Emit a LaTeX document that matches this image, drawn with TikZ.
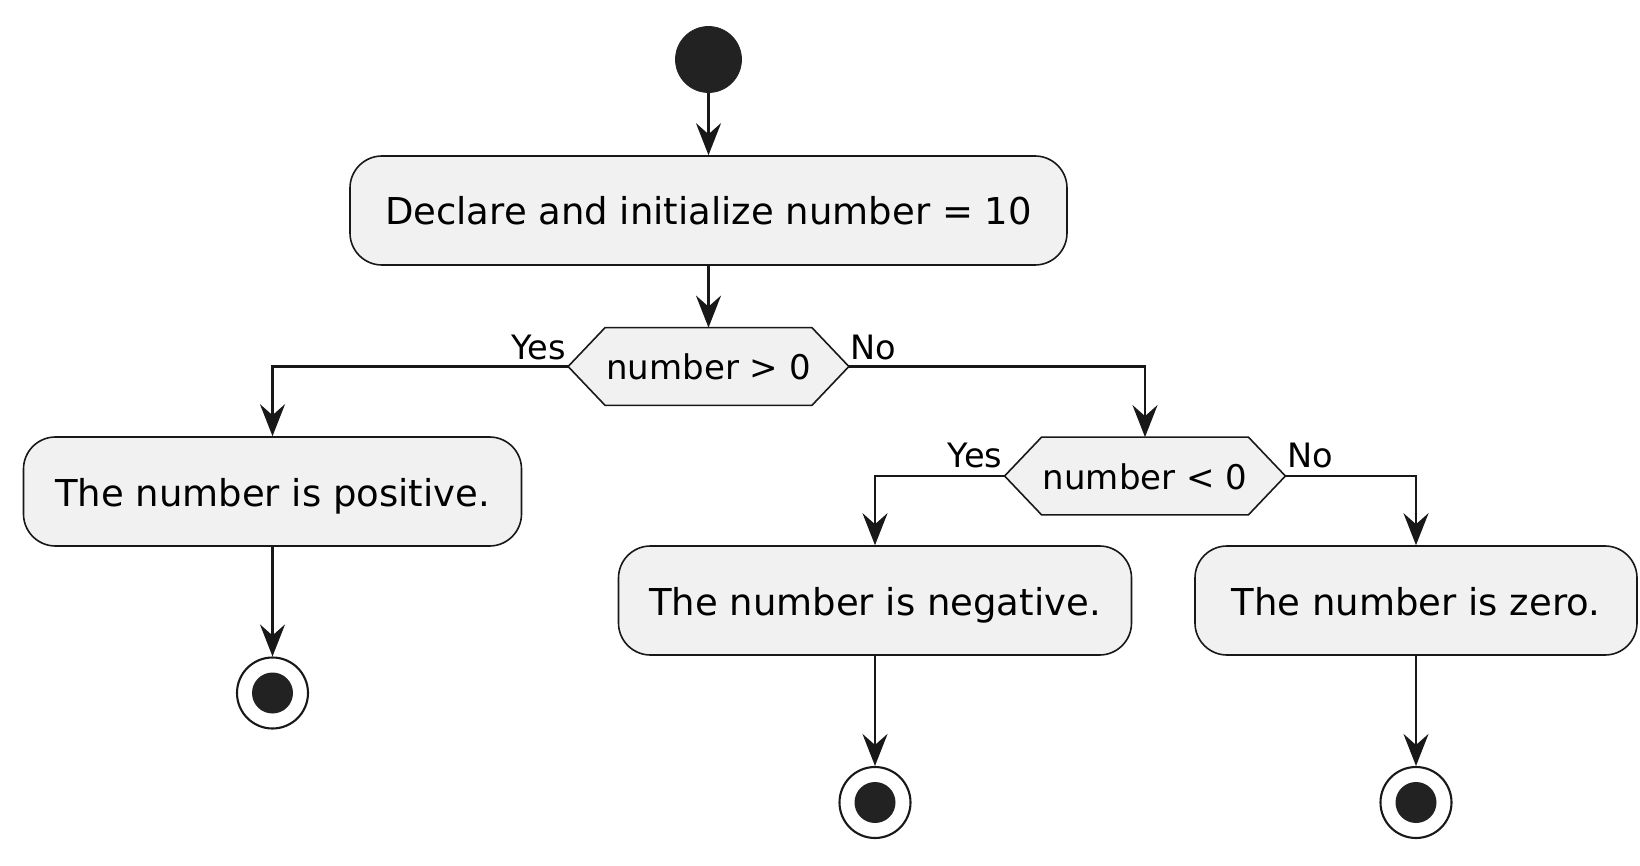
\documentclass[tikz,border=0pt]{standalone}
\usepackage{fontspec}
\setmainfont{DejaVu Sans}
\usetikzlibrary{arrows.meta,backgrounds,calc}
\definecolor{ink}{HTML}{181818}
\definecolor{boxfill}{HTML}{F1F1F1}
\definecolor{dot}{HTML}{222222}
\tikzset{
  act/.style={draw=ink, line width=0.8pt, fill=boxfill, rectangle, rounded corners=16pt,
    minimum height=54.5pt, inner sep=0pt, text height=14.5pt, text depth=0pt,
    font=\fontsize{18.5}{22}\selectfont},
  decide/.style={rectangle, minimum width=140pt, minimum height=38.5pt, inner sep=0pt,
    text height=13pt, text depth=0pt, font=\fontsize{17}{20}\selectfont},
  hexa/.style={draw=ink, line width=0.8pt, fill=boxfill},
  lbl/.style={inner sep=0pt, font=\fontsize{16.8}{19}\selectfont},
  startdot/.style={circle, fill=dot, draw=dot, minimum size=33pt, inner sep=0pt},
  enddot/.style={circle, fill=white, draw=ink, line width=1.05pt, minimum size=35.5pt, inner sep=0pt,
    path picture={\fill[dot] (path picture bounding box.center) circle (10.25pt);}},
  flow/.style={draw=ink, line width=1.35pt, -{Stealth[length=16pt,width=12.5pt,inset=5.5pt]}},
}
\begin{document}
\begin{tikzpicture}[x=0.5pt,y=-0.5pt]
\useasboundingbox (0,0) rectangle (1640,866);
% nodes
\node[startdot] (start) at (708.5,59.5) {};
\node[act, minimum width=358.5pt] (declare) at (708.5,210.5) {Declare and initialize number = 10};
\node[decide] (d1) at (708.5,366.5) {number > 0};
\node[act, minimum width=249pt] (pos) at (272.5,491.5) {The number is positive.};
\node[enddot] (end1) at (272.5,693) {};
\node[decide] (d2) at (1145,476) {number < 0};
\node[act, minimum width=256.5pt] (neg) at (875,600.5) {The number is negative.};
\node[act, minimum width=221pt] (zero) at (1416,600.5) {The number is zero.};
\node[enddot] (end2) at (875,802.5) {};
\node[enddot] (end3) at (1416,802.5) {};
% hexagons behind the decision texts
\begin{scope}[on background layer]
\foreach \d in {d1,d2}{
  \draw[hexa] ([xshift=18.5pt]\d.north west) -- ([xshift=-18.5pt]\d.north east) -- (\d.east)
    -- ([xshift=-18.5pt]\d.south east) -- ([xshift=18.5pt]\d.south west) -- (\d.west) -- cycle;
}
\end{scope}
% labels
\node[lbl, anchor=base east] (y1) at ([xshift=-1pt,yshift=3.7pt]d1.west) {Yes};
\node[lbl, anchor=base west] (n1) at ([xshift=0.6pt,yshift=3.7pt]d1.east) {No};
\node[lbl, anchor=base east] (y2) at ([xshift=-1pt,yshift=4.3pt]d2.west) {Yes};
\node[lbl, anchor=base west] (n2) at ([xshift=0.6pt,yshift=4.3pt]d2.east) {No};
% connectors
\draw[flow] (start) -- (declare);
\draw[flow] (declare) -- (d1);
\draw[flow] (d1.west) -| (pos.north);
\draw[flow] (d1.east) -| (d2.north);
\draw[flow] (d2.west) -| (neg.north);
\draw[flow] (d2.east) -| (zero.north);
\draw[flow] (pos) -- (end1);
\draw[flow] (neg) -- (end2);
\draw[flow] (zero) -- (end3);
\end{tikzpicture}
\end{document}
